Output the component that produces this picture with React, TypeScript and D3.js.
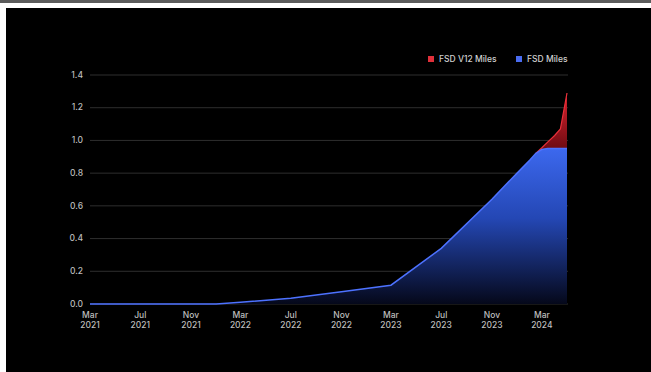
import React from 'react';
import * as d3 from 'd3';

const dates = [
  '2021-03-01', '2021-07-01', '2021-11-01', '2022-01-01', '2022-03-01', '2022-07-01',
  '2022-11-01', '2023-03-01', '2023-07-01', '2023-11-01', '2023-12-01', '2024-01-01',
  '2024-02-01', '2024-02-15', '2024-03-01', '2024-03-15', '2024-04-01', '2024-04-15', '2024-05-01',
];
const fsdMiles = [0, 0, 0, 0, 0.01, 0.035, 0.075, 0.115, 0.34, 0.64, 0.72, 0.8, 0.88, 0.92, 0.945, 0.95, 0.95, 0.95, 0.95];
const v12Miles = [0, 0, 0, 0, 0, 0, 0, 0, 0, 0, 0, 0, 0, 0, 0.01, 0.04, 0.08, 0.12, 0.34];
const yTicks = [0, 0.2, 0.4, 0.6, 0.8, 1.0, 1.2, 1.4];
const xTicks = ['2021-03-01', '2021-07-01', '2021-11-01', '2022-03-01', '2022-07-01', '2022-11-01', '2023-03-01', '2023-07-01', '2023-11-01', '2024-03-01'];
const seriesNames = ['FSD V12 Miles', 'FSD Miles'];

const W = 651;
const H = 372;

export default function App() {
  const parse = d3.timeParse('%Y-%m-%d');
  const rows = dates.map((d, i) => ({ date: parse(d) as Date, fsd: fsdMiles[i], v12: v12Miles[i] }));

  const x = d3.scaleTime()
    .domain(d3.extent(rows, d => d.date) as [Date, Date])
    .range([90, 567]);
  const y = d3.scaleLinear().domain([0, 1.4]).range([304, 75]);

  const stack = d3.stack<any>().keys(['fsd', 'v12']);
  const layers = stack(rows);

  const area = d3.area<any>()
    .x(d => x(d.data.date))
    .y0(d => y(d[0]))
    .y1(d => y(d[1]));
  const topLine = d3.line<any>()
    .x(d => x(d.data.date))
    .y(d => y(d[1]));

  const fmtMonth = d3.timeFormat('%b');
  const fmtYear = d3.timeFormat('%Y');
  const font = 'Inter, "DejaVu Sans", sans-serif';

  return (
    <svg width={W} height={H} style={{ position: 'absolute', left: 0, top: 0 }} fontFamily={font}>
      <defs>
        <linearGradient id="blueFill" gradientUnits="userSpaceOnUse" x1="0" y1={y(0.95)} x2="0" y2={y(0)}>
          <stop offset="0%" stopColor="#3c68ee" />
          <stop offset="45%" stopColor="#2447b4" />
          <stop offset="100%" stopColor="#05081a" />
        </linearGradient>
        <linearGradient id="redFill" gradientUnits="userSpaceOnUse" x1="0" y1={y(1.3)} x2="0" y2={y(0.95)}>
          <stop offset="0%" stopColor="#e0242f" />
          <stop offset="100%" stopColor="#6e0b12" />
        </linearGradient>
      </defs>
      <rect x={0} y={0} width={W} height={H} fill="#ffffff" />
      <rect x={0} y={0} width={W} height={3} fill="#5c5c5c" />
      <rect x={6} y={8} width={W - 6} height={H - 8} fill="#000000" />

      {/* grid */}
      {yTicks.map(t => (
        <g key={t}>
          <line x1={90} x2={568} y1={y(t)} y2={y(t)} stroke="#2e2e2e" strokeWidth={1} />
          <text x={83} y={y(t)} dy="0.32em" textAnchor="end" fontSize={8.5} fontWeight={500} fill="#bdbdbd">
            {t.toFixed(1)}
          </text>
        </g>
      ))}

      {xTicks.map(t => {
        const d = parse(t) as Date;
        return (
          <text key={t} x={x(d)} y={318} textAnchor="middle" fontSize={8.5} fontWeight={500} fill="#bdbdbd">
            <tspan x={x(d)}>{fmtMonth(d)}</tspan>
            <tspan x={x(d)} dy={10}>{fmtYear(d)}</tspan>
          </text>
        );
      })}

      {/* areas */}
      <path d={area(layers[1]) || ''} fill="url(#redFill)" />
      <path d={area(layers[0]) || ''} fill="url(#blueFill)" />
      <path d={topLine(layers[1].filter((_, i) => i >= 13)) || ''} fill="none" stroke="#e8303a" strokeWidth={1.2} />
      <path d={topLine(layers[0]) || ''} fill="none" stroke="#4d72ff" strokeWidth={1.5} />

      {/* legend */}
      {seriesNames.map((name, i) => {
        const lx = i === 0 ? 431 : 519;
        return (
          <g key={name}>
            <rect x={lx - 3} y={56} width={6} height={6} fill={i === 0 ? '#e0303a' : '#4a6cf0'} />
            <text x={lx + 8} y={59} dy="0.35em" fontSize={8.5} fontWeight={500} fill="#cfcfcf">{name}</text>
          </g>
        );
      })}
    </svg>
  );
}
